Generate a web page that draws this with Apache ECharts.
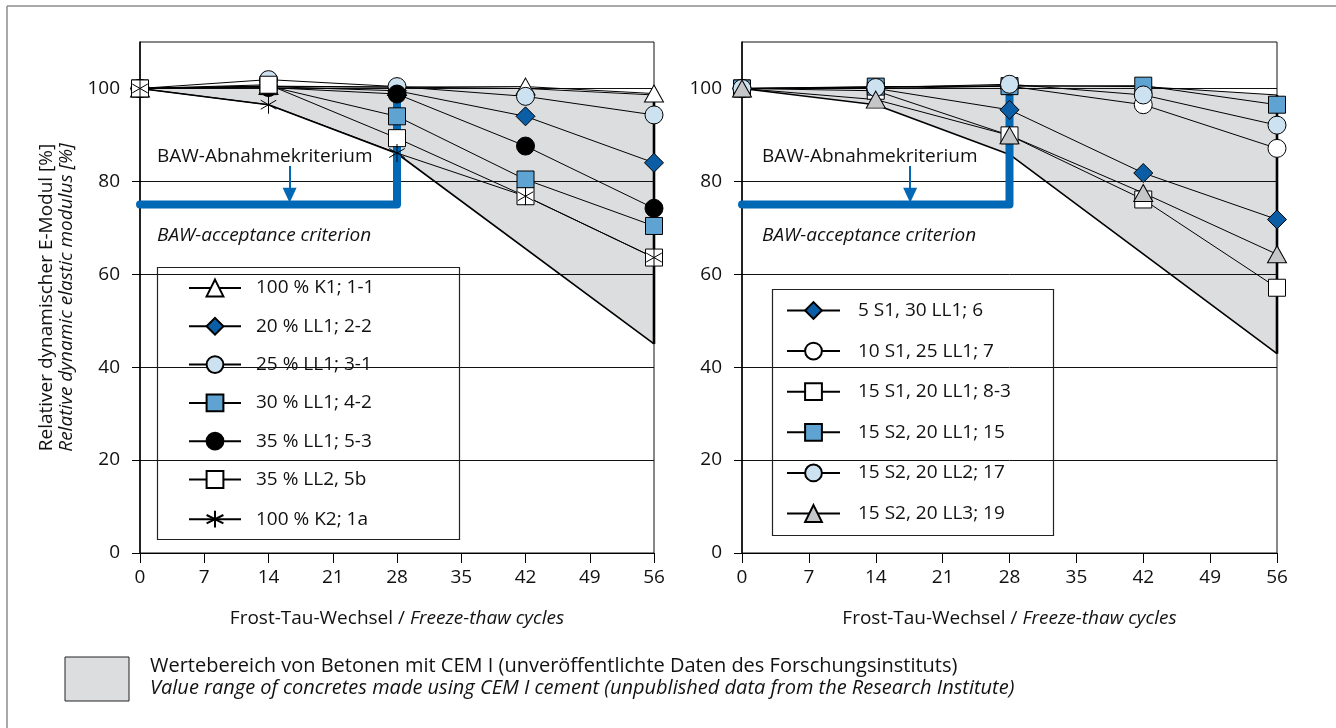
<!DOCTYPE html>
<html>
<head>
<meta charset="utf-8">
<script src="https://cdn.jsdelivr.net/npm/echarts@6/dist/echarts.min.js"></script>
<style>
  html, body { margin: 0; padding: 0; background: #fff; }
  #chart { width: 1336px; height: 728px; }
</style>
</head>
<body>
<div id="chart"></div>
<script>
// Freeze-thaw cycles at which the dynamic modulus was measured
const cycles = [0, 14, 28, 42, 56];
const yTickValues = [0, 20, 40, 60, 80, 100];

// Left panel: relative dynamic E-modulus [%]
const k1_11   = [100, 100.5, 100.3, 100.4, 98.9];
const ll1_22  = [100, 100.4, 99.5, 94.0, 84.0];
const ll1_31  = [100, 101.9, 100.4, 98.3, 94.3];
const ll1_42  = [100, 100.5, 94.0, 80.4, 70.4];
const ll1_53  = [100, 100.2, 98.8, 87.6, 74.2];
const ll2_5b  = [100, 100.8, 89.3, 76.8, 63.6];
const k2_1a   = [100, 96.5, 86.1, 76.8, 63.6];

// Right panel
const s1_6    = [100, 100.0, 95.4, 81.8, 71.8];
const s1_7    = [100, 100.0, 100.5, 96.5, 87.1];
const s1_83   = [100, 99.5, 89.9, 76.1, 57.1];
const s2_15   = [100, 100.4, 100.5, 100.6, 96.5];
const s2_17   = [100, 100.2, 100.9, 98.6, 92.1];
const s2_19   = [100, 97.6, 89.9, 77.5, 64.3];

// CEM I value range (upper and lower bounds)
const rangeUpperX = [0, 14, 28, 42, 56];
const leftRangeUpper  = [100, 100.4, 100.3, 100.0, 98.6];
const rightRangeUpper = [100, 100.3, 100.6, 100.4, 98.6];
const rangeLowerX = [0, 14, 28, 56];
const leftRangeLower  = [100, 96.5, 86.0, 45.0];
const rightRangeLower = [100, 96.5, 85.8, 42.9];

// BAW acceptance criterion: 75 % after 28 cycles
const criterionX = [0, 28, 28];
const criterionY = [75, 75, 99];
const leftArrow  = { x: 16.3, from: 83.3, to: 77.0 };
const rightArrow = { x: 17.6, from: 83.3, to: 77.0 };

const leftNames = ['100 % K1; 1-1', '20 % LL1; 2-2', '25 % LL1; 3-1', '30 % LL1; 4-2',
                   '35 % LL1; 5-3', '35 % LL2, 5b', '100 % K2; 1a'];
const rightNames = ['5 S1, 30 LL1; 6', '10 S1, 25 LL1; 7', '15 S1, 20 LL1; 8-3',
                    '15 S2, 20 LL1; 15', '15 S2, 20 LL2; 17', '15 S2, 20 LL3; 19'];

const FONT = '"Open Sans", "Noto Sans", sans-serif';
const DARK_BLUE = '#0b5ea6';
const MID_BLUE = '#5fa3d2';
const LIGHT_BLUE = '#cde2f1';
const GREY_MARK = '#c5c6c8';
const RANGE_FILL = '#dcdddf';
const BAW_BLUE = '#0068b4';
const ASTERISK = 'path://M10,0L10,20M1.34,5L18.66,15M1.34,15L18.66,5';

const markers = {
  triangleWhite: { symbol: 'triangle', size: [19, 17], fill: '#ffffff' },
  diamondBlue:   { symbol: 'diamond',  size: 19, fill: DARK_BLUE },
  circleLight:   { symbol: 'circle',   size: 18, fill: LIGHT_BLUE },
  squareMid:     { symbol: 'rect',     size: 17, fill: MID_BLUE },
  circleBlack:   { symbol: 'circle',   size: 18, fill: '#000000' },
  squareWhite:   { symbol: 'rect',     size: 17, fill: '#ffffff' },
  asterisk:      { symbol: ASTERISK,   size: 18, fill: 'none' },
  circleWhite:   { symbol: 'circle',   size: 18, fill: '#ffffff' },
  triangleGrey:  { symbol: 'triangle', size: [19, 17], fill: GREY_MARK }
};

function pairs(xs, ys) { return xs.map((x, i) => [x, ys[i]]); }

function dataSeries(name, values, marker, panel) {
  return {
    type: 'line', name: name, xAxisIndex: panel, yAxisIndex: panel,
    data: pairs(cycles, values),
    symbol: marker.symbol, symbolSize: marker.size, symbolKeepAspect: true,
    showAllSymbol: true, clip: false, z: 3,
    lineStyle: { color: '#000', width: 1 },
    itemStyle: { color: marker.fill, borderColor: '#000', borderWidth: 1, opacity: 1 },
    emphasis: { disabled: true }, silent: true
  };
}

function rangeSeries(panel, upper, lower) {
  const fill = {
    type: 'custom', xAxisIndex: panel, yAxisIndex: panel, z: -1, silent: true,
    data: [[0, 100]],
    renderItem: function (params, api) {
      const top = rangeUpperX.map((x, i) => api.coord([x, upper[i]]));
      const bottom = rangeLowerX.map((x, i) => api.coord([x, lower[i]])).reverse();
      return { type: 'polygon', shape: { points: top.concat(bottom) },
               style: { fill: RANGE_FILL, stroke: null } };
    }
  };
  const edge = (data, width) => ({
    type: 'line', xAxisIndex: panel, yAxisIndex: panel, data: data,
    symbol: 'none', clip: false, z: 1, silent: true,
    lineStyle: { color: '#000', width: width }
  });
  const n = upper.length - 1, m = lower.length - 1;
  return [
    fill,
    edge(pairs(rangeUpperX, upper), 1),
    edge(pairs(rangeLowerX, lower), 1.6),
    edge([[rangeUpperX[n], upper[n]], [rangeLowerX[m], lower[m]]], 2.6)
  ];
}

function criterionSeries(panel, arrow) {
  return {
    type: 'line', xAxisIndex: panel, yAxisIndex: panel,
    data: pairs(criterionX, criterionY),
    symbol: 'none', clip: false, z: 2, silent: true,
    lineStyle: { color: BAW_BLUE, width: 8, cap: 'round', join: 'round' },
    markLine: {
      silent: true, symbol: ['none', 'triangle'], symbolSize: [14, 15],
      lineStyle: { color: BAW_BLUE, width: 2, type: 'solid' },
      label: { show: false }, emphasis: { disabled: true },
      data: [[{ coord: [arrow.x, arrow.from] }, { coord: [arrow.x, arrow.to] }]]
    }
  };
}

function xAxis(panel) {
  return {
    type: 'value', gridIndex: panel, min: 0, max: 56, interval: 7,
    name: '{a|Frost-Tau-Wechsel / }{b|Freeze-thaw cycles}',
    nameLocation: 'middle', nameGap: 56,
    nameTextStyle: { rich: {
      a: { fontFamily: FONT, fontSize: 19, color: '#111' },
      b: { fontFamily: FONT, fontSize: 19, color: '#111', fontStyle: 'italic' } } },
    axisLine: { show: true, onZero: false, lineStyle: { color: '#000', width: 1 } },
    axisTick: { show: true, inside: false, length: 10, lineStyle: { color: '#000', width: 1 } },
    axisLabel: { margin: 15, fontFamily: FONT, fontSize: 19, color: '#111' },
    splitLine: { show: false }
  };
}

function yAxis(panel, withName) {
  const ax = {
    type: 'value', gridIndex: panel, min: 0, max: 110, interval: 20,
    axisLine: { show: true, onZero: false, lineStyle: { color: '#000', width: 1.5 } },
    axisTick: { show: true, inside: false, length: 8, customValues: yTickValues,
                lineStyle: { color: '#000', width: 1 } },
    axisLabel: { margin: 20, fontFamily: FONT, fontSize: 19, color: '#111',
                 customValues: yTickValues },
    splitLine: { show: true, lineStyle: { color: '#111', width: 1 } }
  };
  if (withName) {
    ax.name = '{a|Relativer dynamischer E-Modul [%]}\n{b|Relative dynamic elastic modulus [%]}';
    ax.nameLocation = 'middle';
    ax.nameGap = 63;
    ax.nameRotate = 90;
    ax.nameTextStyle = { rich: {
      a: { fontFamily: FONT, fontSize: 19, color: '#111', lineHeight: 20 },
      b: { fontFamily: FONT, fontSize: 19, color: '#111', lineHeight: 20, fontStyle: 'italic' } } };
  }
  return ax;
}

function legend(names, box) {
  return {
    orient: 'vertical', left: box.left, top: box.top,
    padding: box.padding, itemWidth: box.itemWidth, itemHeight: 21, itemGap: box.gap,
    borderWidth: 0, selectedMode: false,
    textStyle: { fontFamily: FONT, fontSize: 19, color: '#111',
                 padding: [0, 0, 0, box.textPad] },
    data: names
  };
}

const series = [].concat(
  rangeSeries(0, leftRangeUpper, leftRangeLower),
  rangeSeries(1, rightRangeUpper, rightRangeLower),
  [criterionSeries(0, leftArrow), criterionSeries(1, rightArrow)],
  [
    dataSeries(leftNames[0], k1_11,  markers.triangleWhite, 0),
    dataSeries(leftNames[1], ll1_22, markers.diamondBlue, 0),
    dataSeries(leftNames[2], ll1_31, markers.circleLight, 0),
    dataSeries(leftNames[3], ll1_42, markers.squareMid, 0),
    dataSeries(leftNames[4], ll1_53, markers.circleBlack, 0),
    dataSeries(leftNames[5], ll2_5b, markers.squareWhite, 0),
    dataSeries(leftNames[6], k2_1a,  markers.asterisk, 0),
    dataSeries(rightNames[0], s1_6,  markers.diamondBlue, 1),
    dataSeries(rightNames[1], s1_7,  markers.circleWhite, 1),
    dataSeries(rightNames[2], s1_83, markers.squareWhite, 1),
    dataSeries(rightNames[3], s2_15, markers.squareMid, 1),
    dataSeries(rightNames[4], s2_17, markers.circleLight, 1),
    dataSeries(rightNames[5], s2_19, markers.triangleGrey, 1)
  ]
);

function note(x, y, text, italic) {
  return { type: 'text', left: x, top: y, silent: true,
           style: { text: text, fontFamily: FONT, fontSize: 19, fill: '#111',
                    fontStyle: italic ? 'italic' : 'normal' } };
}

function frame(x, y, w, h) {
  return { type: 'rect', silent: true, z: 10, shape: { x: x, y: y, width: w, height: h },
           style: { fill: null, stroke: '#222', lineWidth: 1.2 } };
}

const chart = echarts.init(document.getElementById('chart'), null, { renderer: 'canvas' });
chart.setOption({
  animation: false,
  backgroundColor: '#ffffff',
  grid: [
    { left: 140, top: 42, width: 514, height: 511, show: true, borderColor: '#111', borderWidth: 1 },
    { left: 742, top: 42, width: 535, height: 511, show: true, borderColor: '#111', borderWidth: 1 }
  ],
  xAxis: [xAxis(0), xAxis(1)],
  yAxis: [yAxis(0, true), yAxis(1, false)],
  legend: [
    legend(leftNames,  { left: 157, top: 267, padding: [11.5, 0, 0, 31], itemWidth: 52, gap: 19.3, textPad: 10 }),
    legend(rightNames, { left: 772, top: 289, padding: [12, 0, 0, 14], itemWidth: 53, gap: 21.6, textPad: 13 })
  ],
  graphic: [
    { type: 'line', silent: true, shape: { x1: 7, y1: 6, x2: 1336, y2: 6 }, style: { stroke: '#8c8c8c', lineWidth: 1.5 } },
    { type: 'line', silent: true, shape: { x1: 7, y1: 6, x2: 7, y2: 728 }, style: { stroke: '#8c8c8c', lineWidth: 1.5 } },
    frame(157.5, 267.5, 302, 272),
    frame(772.5, 289.5, 281, 246),
    note(157, 147, 'BAW-Abnahmekriterium', false),
    note(157, 226, 'BAW-acceptance criterion', true),
    note(762, 147, 'BAW-Abnahmekriterium', false),
    note(762, 226, 'BAW-acceptance criterion', true),
    { type: 'rect', silent: true, shape: { x: 65, y: 657, width: 64, height: 44 },
      style: { fill: RANGE_FILL, stroke: '#222', lineWidth: 1 } },
    { type: 'text', left: 150, top: 656, silent: true,
      style: { text: 'Wertebereich von Betonen mit CEM I (unveröffentlichte Daten des Forschungsinstituts)',
               fontFamily: FONT, fontSize: 20, fill: '#111' } },
    { type: 'text', left: 150, top: 678, silent: true,
      style: { text: 'Value range of concretes made using CEM I cement (unpublished data from the Research Institute)',
               fontFamily: FONT, fontSize: 20, fill: '#111', fontStyle: 'italic' } }
  ],
  series: series
});
</script>
</body>
</html>
